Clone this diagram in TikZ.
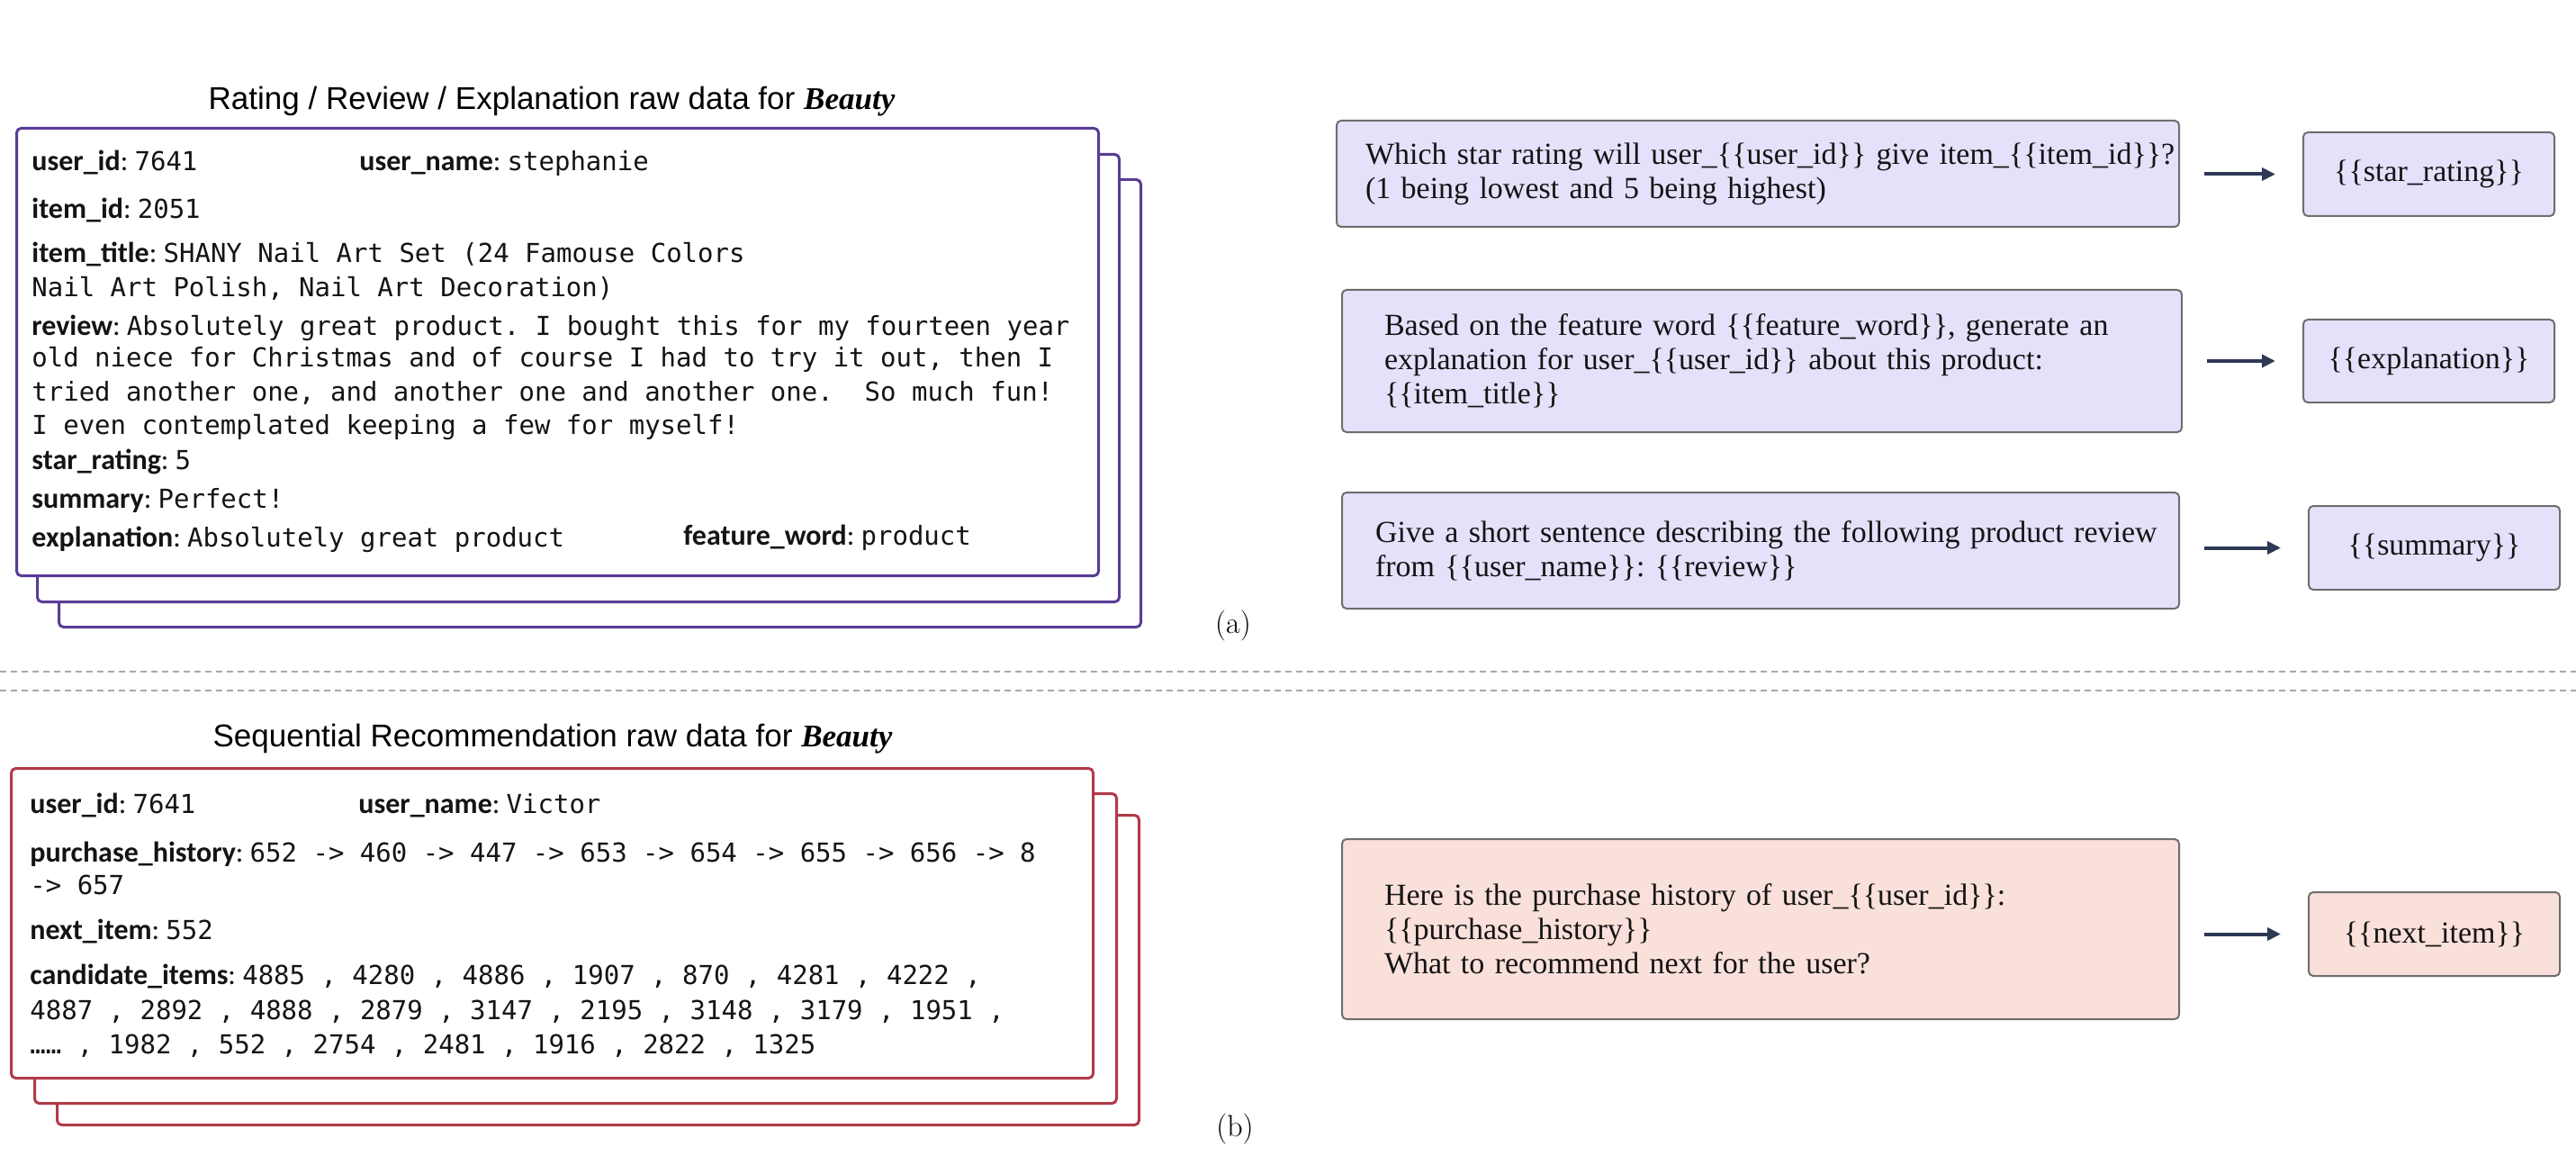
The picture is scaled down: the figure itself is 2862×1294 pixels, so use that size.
\documentclass[tikz,border=0pt]{standalone}
\usepackage{fontspec}
\newfontfamily\serifp{Liberation Serif}
\newfontfamily\titlefont{Liberation Sans}
\newfontfamily\labfont{Carlito}
\newfontfamily\monofont{DejaVu Sans Mono}
\usetikzlibrary{arrows.meta}
\frenchspacing
\definecolor{purpA}{HTML}{5A3C96}
\definecolor{redB}{HTML}{B23A48}
\definecolor{fillA}{HTML}{E4E1FB}
\definecolor{fillB}{HTML}{FAE0DA}
\definecolor{bordP}{HTML}{6E6E6E}
\definecolor{arrC}{HTML}{2E3A55}
\definecolor{sepC}{HTML}{A8A8A8}
\definecolor{txt}{HTML}{141414}
\newcommand\Lab[1]{{\bfseries #1}:}
\newcommand\Val[1]{{\monofont\fontsize{14.5}{17}\selectfont #1}}
\tikzset{
  frameA/.style={draw=purpA, line width=1.5pt, rounded corners=2.5pt, fill=white, anchor=north west, inner sep=0pt, minimum width=601pt, minimum height=248.5pt},
  frameB/.style={draw=redB, line width=1.5pt, rounded corners=2.5pt, fill=white, anchor=north west, inner sep=0pt, minimum width=601pt, minimum height=172pt},
  dline/.style={anchor=base west, inner sep=0pt, text=txt, font=\labfont\fontsize{16}{19}\selectfont},
  ttl/.style={anchor=base, inner sep=0pt, text=black, font=\titlefont\fontsize{17.5}{21}\selectfont},
  prompt/.style={draw=bordP, line width=1pt, rounded corners=2.5pt, anchor=north west, inner ysep=0pt, align=left, text=txt, font=\serifp\fontsize{17}{19}\selectfont},
  outbox/.style={draw=bordP, line width=1pt, rounded corners=2.5pt, anchor=north west, inner sep=0pt, align=center, text=txt, minimum width=139.5pt, minimum height=46.5pt, font=\serifp\fontsize{17}{19}\selectfont},
  arr/.style={draw=arrC, line width=2pt, -{Triangle[length=7.5pt,width=7pt]}, shorten <=13.5pt, shorten >=15pt},
  sepline/.style={draw=sepC, line width=1pt, dash pattern=on 3.5pt off 2.5pt},
  sublabel/.style={inner sep=0pt, text=black, font=\fontsize{17}{20}\selectfont}
}
\begin{document}
\begin{tikzpicture}[x=0.5pt,y=-0.5pt]
\useasboundingbox (0,0) rectangle (2862,1294);
% ---------- (a) raw data ----------
\node[ttl] (ta) at (613,122) {Rating / Review / Explanation raw data for {\serifp\bfseries\itshape Beauty}};
\node[frameA] (fa3) at (64,198) {};
\node[frameA] (fa2) at (40,170) {};
\node[frameA] (fa1) at (17,141) {};
\node[dline] (a1) at (35,190) {\Lab{user\_id} \Val{7641}};
\node[dline] (a1b) at (399,190) {\Lab{user\_name} \Val{stephanie}};
\node[dline] (a2) at (35,243) {\Lab{item\_id} \Val{2051}};
\node[dline] (a3) at (35,292) {\Lab{item\_title} \Val{SHANY Nail Art Set (24 Famouse Colors}};
\node[dline] (a4) at (35,329) {\Val{Nail Art Polish, Nail Art Decoration)}};
\node[dline] (a5) at (35,372) {\Lab{review} \Val{Absolutely great product. I bought this for my fourteen year}};
\node[dline] (a6) at (35,408) {\Val{old niece for Christmas and of course I had to try it out, then I}};
\node[dline] (a7) at (35,445) {\Val{tried another one, and another one and another one.\ \ So much fun!}};
\node[dline] (a8) at (35,482) {\Val{I even contemplated keeping a few for myself!}};
\node[dline] (a9) at (35,521) {\Lab{star\_rating} \Val{5}};
\node[dline] (a10) at (35,564) {\Lab{summary} \Val{Perfect!}};
\node[dline] (a11) at (35,607) {\Lab{explanation} \Val{Absolutely great product}};
\node[dline] (a11b) at (759,605) {\Lab{feature\_word} \Val{product}};
\node[sublabel] (la) at (1370,695) {(a)};
% ---------- (a) prompts ----------
\node[prompt, fill=fillA, minimum width=468pt, minimum height=59pt, inner xsep=16pt, text width=436pt] (p1) at (1484,133)
  {\mbox{Which star rating will user\_\{\{user\_id\}\} give item\_\{\{item\_id\}\}?}\\\mbox{(1 being lowest and 5 being highest)}};
\node[prompt, fill=fillA, minimum width=466.5pt, minimum height=79pt, inner xsep=23.5pt, text width=419.5pt] (p2) at (1490,321)
  {\mbox{Based on the feature word \{\{feature\_word\}\}, generate an}\\\mbox{explanation for user\_\{\{user\_id\}\} about this product:}\\\mbox{\{\{item\_title\}\}}};
\node[prompt, fill=fillA, minimum width=465pt, minimum height=64.5pt, inner xsep=18.5pt, text width=428pt] (p3) at (1490,546)
  {\mbox{Give a short sentence describing the following product review}\\\mbox{from \{\{user\_name\}\}: \{\{review\}\}}};
\node[outbox, fill=fillA] (o1) at (2558,146) {\{\{star\_rating\}\}};
\node[outbox, fill=fillA, minimum height=46pt] (o2) at (2558,354) {\{\{explanation\}\}};
\node[outbox, fill=fillA] (o3) at (2564,561) {\{\{summary\}\}};
\draw[arr] (o1.west -| p1.east) -- (o1.west);
\draw[arr] (o2.west -| p2.east) -- (o2.west);
\draw[arr] (o3.west -| p3.east) -- (o3.west);
% ---------- separator ----------
\coordinate (s1l) at (0,746); \coordinate (s1r) at (2862,746);
\coordinate (s2l) at (0,767); \coordinate (s2r) at (2862,767);
\draw[sepline] (s1l) -- (s1r);
\draw[sepline] (s2l) -- (s2r);
% ---------- (b) raw data ----------
\node[ttl] (tb) at (614,829) {Sequential Recommendation raw data for {\serifp\bfseries\itshape Beauty}};
\node[frameB] (fb3) at (62,904) {};
\node[frameB] (fb2) at (37,880) {};
\node[frameB] (fb1) at (11,852) {};
\node[dline] (b1) at (33,903) {\Lab{user\_id} \Val{7641}};
\node[dline] (b1b) at (398,903) {\Lab{user\_name} \Val{Victor}};
\node[dline] (b2) at (33,957) {\Lab{purchase\_history} \Val{652 -> 460 -> 447 -> 653 -> 654 -> 655 -> 656 -> 8}};
\node[dline] (b3) at (33,993) {\Val{-> 657}};
\node[dline] (b4) at (33,1043) {\Lab{next\_item} \Val{552}};
\node[dline] (b5) at (33,1093) {\Lab{candidate\_items} \Val{4885 , 4280 , 4886 , 1907 , 870 , 4281 , 4222 ,}};
\node[dline] (b6) at (33,1132) {\Val{4887 , 2892 , 4888 , 2879 , 3147 , 2195 , 3148 , 3179 , 1951 ,}};
\node[dline] (b7) at (33,1170) {\Val{…… , 1982 , 552 , 2754 , 2481 , 1916 , 2822 , 1325}};
\node[sublabel] (lb) at (1372,1254) {(b)};
% ---------- (b) prompt ----------
\node[prompt, fill=fillB, minimum width=465pt, minimum height=100pt, inner xsep=23.5pt, text width=418pt] (pb) at (1490,931)
  {\mbox{Here is the purchase history of user\_\{\{user\_id\}\}:}\\\mbox{\{\{purchase\_history\}\}}\\\mbox{What to recommend next for the user?}};
\node[outbox, fill=fillB] (ob) at (2564,990) {\{\{next\_item\}\}};
\draw[arr] (ob.west -| pb.east) -- (ob.west);
\end{tikzpicture}
\end{document}
